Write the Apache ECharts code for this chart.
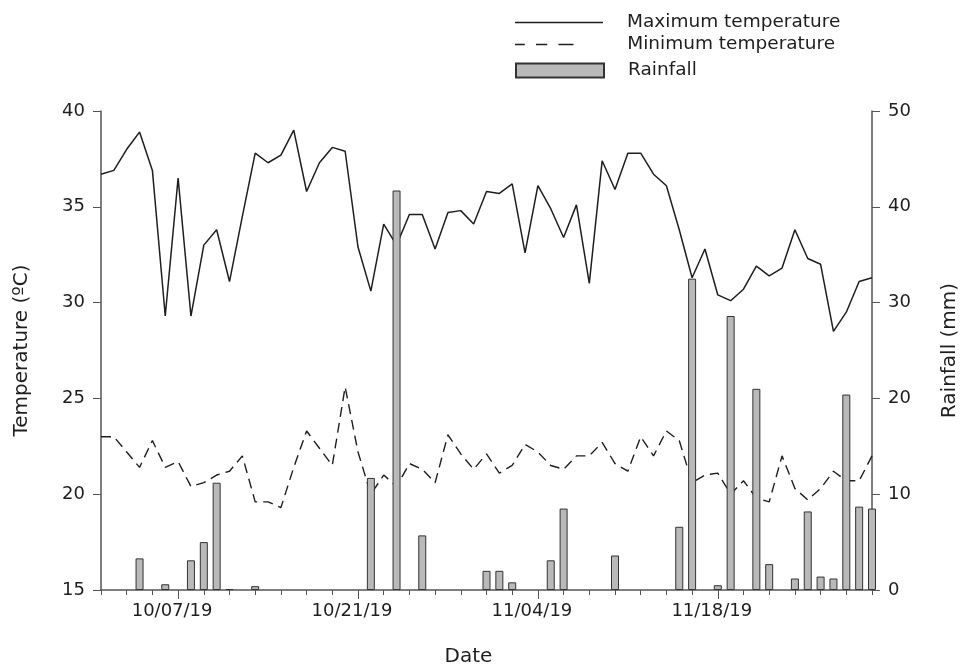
<!DOCTYPE html>
<html>
<head>
<meta charset="utf-8">
<script src="https://cdn.jsdelivr.net/npm/echarts@6/dist/echarts.min.js"></script>
<style>
  html, body { margin: 0; padding: 0; background: #fff; }
  #chart { width: 962px; height: 668px; }
</style>
</head>
<body>
<div id="chart"></div>
<script>
// 每日日期 10/01/19 - 11/30/19
var dates = [
  '10/01/19', '10/02/19', '10/03/19', '10/04/19', '10/05/19', '10/06/19', '10/07/19', '10/08/19', '10/09/19', '10/10/19',
  '10/11/19', '10/12/19', '10/13/19', '10/14/19', '10/15/19', '10/16/19', '10/17/19', '10/18/19', '10/19/19', '10/20/19',
  '10/21/19', '10/22/19', '10/23/19', '10/24/19', '10/25/19', '10/26/19', '10/27/19', '10/28/19', '10/29/19', '10/30/19',
  '10/31/19', '11/01/19', '11/02/19', '11/03/19', '11/04/19', '11/05/19', '11/06/19', '11/07/19', '11/08/19', '11/09/19',
  '11/10/19', '11/11/19', '11/12/19', '11/13/19', '11/14/19', '11/15/19', '11/16/19', '11/17/19', '11/18/19', '11/19/19',
  '11/20/19', '11/21/19', '11/22/19', '11/23/19', '11/24/19', '11/25/19', '11/26/19', '11/27/19', '11/28/19', '11/29/19',
  '11/30/19'
];
// 最高气温 (ºC)
var maxTemp = [
  36.7, 36.9, 38.0, 38.9, 36.9, 29.3, 36.5, 29.3, 33.0, 33.8,
  31.1, 34.5, 37.8, 37.3, 37.7, 39.0, 35.8, 37.3, 38.1, 37.9,
  32.9, 30.6, 34.1, 33.0, 34.6, 34.6, 32.8, 34.7, 34.8, 34.1,
  35.8, 35.7, 36.2, 32.6, 36.1, 34.9, 33.4, 35.1, 31.0, 37.4,
  35.9, 37.8, 37.8, 36.7, 36.1, 33.8, 31.3, 32.8, 30.4, 30.1,
  30.7, 31.9, 31.4, 31.8, 33.8, 32.3, 32.0, 28.5, 29.5, 31.1,
  31.3
];
// 最低气温 (ºC)
var minTemp = [
  23.0, 23.0, 22.2, 21.4, 22.8, 21.4, 21.7, 20.4, 20.6, 21.0,
  21.2, 22.0, 19.6, 19.6, 19.3, 21.4, 23.3, 22.4, 21.5, 25.6,
  22.2, 20.0, 21.0, 20.4, 21.6, 21.3, 20.6, 23.1, 22.1, 21.3,
  22.1, 21.1, 21.5, 22.6, 22.2, 21.5, 21.3, 22.0, 22.0, 22.7,
  21.6, 21.2, 23.0, 22.0, 23.3, 22.8, 20.6, 21.0, 21.1, 20.0,
  20.7, 19.8, 19.6, 22.0, 20.3, 19.7, 20.3, 21.2, 20.7, 20.7,
  22.0
];
// 降雨量 (mm)
var rainfall = [
  0, 0, 0, 3.3, 0, 0.6, 0, 3.1, 5.0, 11.2,
  0.1, 0, 0.4, 0, 0, 0, 0, 0, 0, 0,
  0, 11.7, 0, 41.7, 0, 5.7, 0, 0, 0, 0,
  2.0, 2.0, 0.8, 0, 0, 3.1, 8.5, 0, 0, 0,
  3.6, 0, 0, 0, 0, 6.6, 32.5, 0, 0.5, 28.6,
  0, 21.0, 2.7, 0, 1.2, 8.2, 1.4, 1.2, 20.4, 8.7,
  8.5
];
// 刻度标签的日期
var tickDates = ['10/07/19', '10/21/19', '11/04/19', '11/18/19'];

var font = 'DejaVu Sans';
var axisColor = '#555';
var ink = '#1e1e1e';

var myChart = echarts.init(document.getElementById('chart'));

function isMajor (index, value) {
  return tickDates.indexOf(value) !== -1;
}
function isMinor (index) {
  return index % 2 === 0;
}
function legendText (gap) {
  return { color: ink, fontFamily: font, fontSize: 18.5, lineHeight: 18, padding: [0, 0, 0, gap] };
}

var option = {
  animation: false,
  backgroundColor: '#fff',
  // 固定绘图区，不让标签挤压
  grid: { left: 101, right: 90, top: 111, bottom: 78, outerBoundsMode: 'none' },
  // 图例分三行，各自定位
  legend: [
    {
      left: 515, top: 13, padding: 0, itemWidth: 88, itemHeight: 1.5,
      itemStyle: { borderWidth: 0 },
      data: [{ name: 'Maximum temperature', icon: 'rect' }], textStyle: legendText(19)
    },
    {
      left: 515, top: 35, padding: 0, itemWidth: 78, itemHeight: 1.5,
      itemStyle: { borderWidth: 0 },
      data: [{ name: 'Minimum temperature', icon: 'path://M0,0h13v2h-13zM28,0h15v2h-15zM58,0h20v2h-20z' }],
      textStyle: legendText(39)
    },
    {
      left: 515, top: 61, padding: 0, itemWidth: 88, itemHeight: 14,
      data: [{ name: 'Rainfall', icon: 'rect' }], textStyle: legendText(19)
    }
  ],
  xAxis: [
    {
      type: 'category', data: dates, boundaryGap: false, position: 'bottom',
      axisLine: { lineStyle: { color: axisColor, width: 1.5 } },
      axisTick: { interval: isMinor, length: 5, lineStyle: { color: axisColor, width: 1 } },
      axisLabel: { show: false },
      splitLine: { show: false },
      name: 'Date', nameLocation: 'middle', nameGap: 57,
      nameTextStyle: { color: ink, fontFamily: font, fontSize: 20, padding: [0, 36, 0, 0] }
    },
    {
      type: 'category', data: dates, boundaryGap: false, position: 'bottom',
      axisLine: { show: false },
      axisTick: { interval: isMajor, length: 9, lineStyle: { color: axisColor, width: 1 } },
      axisLabel: { interval: isMajor, margin: 12, color: ink, fontFamily: font, fontSize: 18, padding: [0, 12, 0, 0] },
      splitLine: { show: false }
    }
  ],
  yAxis: [
    {
      type: 'value', min: 15, max: 40, interval: 5, position: 'left',
      axisLine: { show: true, lineStyle: { color: axisColor, width: 1.5 } },
      axisTick: { show: true, length: 8, lineStyle: { color: axisColor } },
      axisLabel: { margin: 16, color: ink, fontFamily: font, fontSize: 18 },
      splitLine: { show: false },
      name: 'Temperature (ºC)', nameLocation: 'middle', nameGap: 69, nameRotate: 90,
      nameTextStyle: { color: ink, fontFamily: font, fontSize: 20 }
    },
    {
      type: 'value', min: 0, max: 50, interval: 10, position: 'right',
      axisLine: { show: true, lineStyle: { color: axisColor, width: 1.5 } },
      axisTick: { show: true, length: 8, lineStyle: { color: axisColor } },
      axisLabel: { margin: 16, color: ink, fontFamily: font, fontSize: 18 },
      splitLine: { show: false },
      name: 'Rainfall (mm)', nameLocation: 'middle', nameGap: 68, nameRotate: 90,
      nameTextStyle: { color: ink, fontFamily: font, fontSize: 20 }
    }
  ],
  series: [
    {
      name: 'Maximum temperature', type: 'line', xAxisIndex: 0, yAxisIndex: 0,
      data: maxTemp, symbol: 'none',
      lineStyle: { color: ink, width: 1.5 }, itemStyle: { color: ink, borderWidth: 0 }, z: 2
    },
    {
      name: 'Minimum temperature', type: 'line', xAxisIndex: 0, yAxisIndex: 0,
      data: minTemp, symbol: 'none',
      lineStyle: { color: ink, width: 1.4, type: [10, 6] }, itemStyle: { color: ink, borderWidth: 0 }, z: 2
    },
    {
      name: 'Rainfall', type: 'bar', xAxisIndex: 0, yAxisIndex: 1,
      data: rainfall.map(function (v) { return v === 0 ? '-' : v; }),
      barWidth: 8, clip: true,
      itemStyle: { color: '#b9b9b9', borderColor: '#333', borderWidth: 1 }, z: 3
    }
  ]
};

myChart.setOption(option);
</script>
</body>
</html>
